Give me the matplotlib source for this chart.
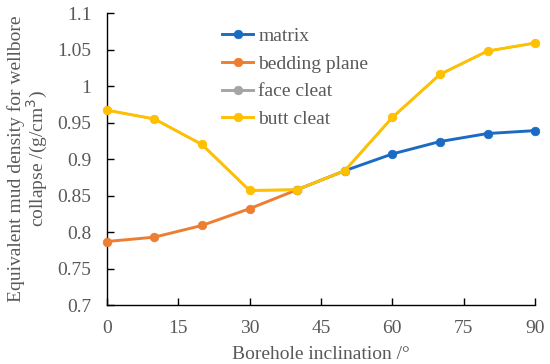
import matplotlib.pyplot as plt

# borehole inclination (deg)
inclination = [0, 10, 20, 30, 40, 50, 60, 70, 80, 90]

# equivalent mud density for wellbore collapse (g/cm3)
# None where the point is hidden under another curve in the source figure
matrix = [None, None, None, None, 0.858, 0.884, 0.907, 0.924, 0.935, 0.939]
bedding_plane = [0.787, 0.793, 0.809, 0.832, 0.858, None, None, None, None, None]
face_cleat = [0.967, 0.955, 0.920, 0.857, 0.858, 0.884, 0.957, 1.016, 1.048, 1.059]
butt_cleat = [0.967, 0.955, 0.920, 0.857, 0.858, 0.884, 0.957, 1.016, 1.048, 1.059]

series = [
    ("matrix", matrix, "#1B6BC3"),
    ("bedding plane", bedding_plane, "#ED7D31"),
    ("face cleat", face_cleat, "#A5A5A5"),
    ("butt cleat", butt_cleat, "#FFC000"),
]

plt.rcParams['font.family'] = ['Liberation Serif', 'DejaVu Serif']
text_col = '#595959'

fig = plt.figure(figsize=(5.5, 3.64), dpi=100)
ax = fig.add_axes([0.194, 0.162, 0.779, 0.802])

handles = []
for i, (name, vals, col) in enumerate(series):
    y = [float('nan') if v is None else v for v in vals]
    # face cleat lies under butt cleat: draw it thinner so it doesn't fringe
    thin = 0.5 if name == "face cleat" else 0.0
    ax.plot(inclination, y, '-o', color=col, lw=2.1 - thin,
            markersize=6.2 - 2 * thin, markeredgewidth=0.5,
            clip_on=False, zorder=3 + i)
    h, = ax.plot([], [], '-o', color=col, label=name, lw=2.1,
                 markersize=6.2, markeredgewidth=0.5)
    handles.append(h)

ax.set_xlim(0, 90)
ax.set_ylim(0.7, 1.1)
ax.set_xticks(range(0, 91, 15))
ax.set_yticks([0.7, 0.75, 0.8, 0.85, 0.9, 0.95, 1.0, 1.05, 1.1])
ax.set_yticklabels(['0.7', '0.75', '0.8', '0.85', '0.9', '0.95', '1', '1.05', '1.1'])

for side in ['top', 'right']:
    ax.spines[side].set_visible(False)
for side in ['left', 'bottom']:
    ax.spines[side].set_color('black')
    ax.spines[side].set_linewidth(1.0)
ax.tick_params(direction='in', length=5, width=1.0, colors='black',
               labelcolor=text_col, labelsize=14)
ax.tick_params(axis='y', pad=11)
ax.tick_params(axis='x', pad=11)

ax.set_xlabel('Borehole inclination /°', fontsize=14, color=text_col, labelpad=6)
ax.set_ylabel('Equivalent mud density for wellbore\ncollapse /(g/cm$^3$)',
              fontsize=14, color=text_col, labelpad=5, linespacing=1.05)

leg = ax.legend(handles=handles, loc='upper left', bbox_to_anchor=(0.27, 0.951),
                frameon=False, fontsize=14, handlelength=1.6, handletextpad=0.25,
                labelspacing=0.52, borderaxespad=0, borderpad=0)
for t in leg.get_texts():
    t.set_color(text_col)

fig.savefig('out.png', dpi=100)
